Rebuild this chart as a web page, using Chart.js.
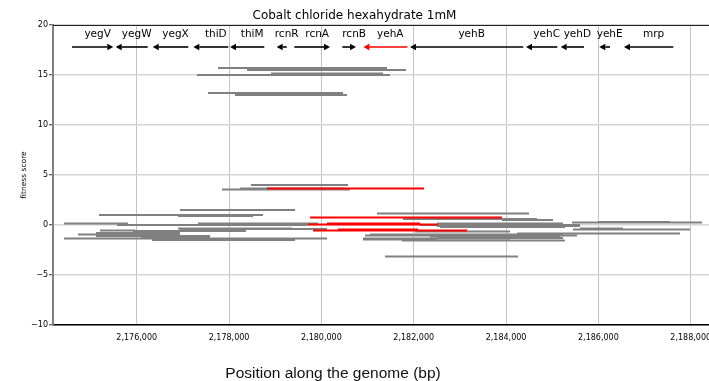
<!DOCTYPE html>
<html>
<head>
<meta charset="utf-8">
<script src="https://cdn.jsdelivr.net/npm/chart.js@4.4.1/dist/chart.umd.min.js"></script>
<style>
  html, body { margin: 0; padding: 0; background: #fff; }
  #wrap { position: relative; width: 709px; height: 381px; overflow: hidden; }
  #c { position: absolute; left: 0; top: 0; }
  #xtitle { position: absolute; left: 333px; top: 373px; transform: translate(-50%, -50%);
    font-family: 'Liberation Sans', Arial, sans-serif; font-size: 15.5px; color: #111; white-space: nowrap; }
</style>
</head>
<body>
<div id="wrap">
  <canvas id="c" width="709" height="381"></canvas>
  <div id="xtitle">Position along the genome (bp)</div>
</div>
<script>
// ---- data ----
const chartTitle = 'Cobalt chloride hexahydrate 1mM';
const yTitle = 'fitness score';
const xTicks = [2176000, 2178000, 2180000, 2182000, 2184000, 2186000, 2188000];
const yTicks = [-10, -5, 0, 5, 10, 15, 20];

const geneNames  = ['yegV','yegW','yegX','thiD','thiM','rcnR','rcnA','rcnB','yehA','yehB','yehC','yehD','yehE','mrp'];
const geneStart  = [2174599,2175545,2176347,2177226,2178021,2179032,2179414,2180453,2180908,2181920,2184432,2185184,2186020,2186554];
const geneEnd    = [2175493,2176238,2177118,2177984,2178764,2179249,2180187,2180750,2181861,2184374,2185110,2185689,2186252,2187623];
const geneStrand = ['+','-','-','-','-','-','+','+','-','-','-','-','-','-'];
const highlightGene = 'yehA';

// fitness segments (other genes / fragments)
const grayStart = [2177761,2178389,2177306,2178909,2177544,2178129,2178476,2177848,2178237,2176938,
  2175183,2176895,2181205,2181768,2183912,2174425,2177328,2175573,2182504,2182136,
  2182504,2185429,2185992,2185602,2185450,2176938,2182028,2175205,2175920,2176895,
  2184237,2181053,2180945,2174729,2175118,2176093,2174425,2176331,2177653,2180902,
  2182504,2181746,2181378,2180902,2182570,2182353,2175118];
const grayEnd = [2181421,2181833,2181486,2181335,2180468,2180555,2180577,2180620,2180512,2179429,
  2178736,2178519,2184497,2184670,2185017,2175812,2179927,2179710,2185234,2185602,
  2185602,2188244,2187551,2186533,2187984,2180122,2184086,2175963,2178367,2179364,
  2187768,2185234,2185537,2176938,2177588,2177588,2180122,2179429,2179385,2182504,
  2185234,2185277,2184259,2184086,2185277,2185170,2176938];
const grayScore = [15.7,15.5,15.0,15.15,13.2,13.0,4.0,3.55,3.65,1.5,
  1.0,0.9,1.15,0.6,0.5,0.15,0.15,0.0,0.15,0.0,
  -0.1,0.25,0.3,-0.35,-0.45,-0.4,-0.65,-0.55,-0.6,-0.35,
  -0.85,-0.95,-1.05,-0.95,-1.1,-1.2,-1.35,-1.5,-1.45,-1.45,
  -1.3,-1.55,-3.15,-1.35,-0.2,-1.15,-0.8];

// fitness segments (highlighted gene)
const redStart = [2178822,2179754,2179710,2180122,2179819,2180360];
const redEnd   = [2182223,2183912,2182526,2182136,2183154,2182093];
const redScore = [3.65,0.75,0.05,0.15,-0.55,-0.45];

// ---- build datasets ----
const datasets = [];
for (let i = 0; i < redStart.length; i++) {
  datasets.push({ data: [{x: redStart[i], y: redScore[i]}, {x: redEnd[i], y: redScore[i]}],
    borderColor: '#ff0000', borderWidth: 2, pointRadius: 0, showLine: true, order: 0, borderCapStyle: 'butt' });
}
for (let i = 0; i < grayStart.length; i++) {
  datasets.push({ data: [{x: grayStart[i], y: grayScore[i]}, {x: grayEnd[i], y: grayScore[i]}],
    borderColor: '#808080', borderWidth: 2, pointRadius: 0, showLine: true, order: 1, borderCapStyle: 'butt' });
}

const geneArrowY = 17.8;
const geneLabelY = 19.05;

const genePlugin = {
  id: 'genes',
  afterDatasetsDraw(chart) {
    const {ctx, chartArea, scales: {x, y}} = chart;
    ctx.save();
    // top frame line
    ctx.strokeStyle = '#222';
    ctx.lineWidth = 1.2;
    ctx.beginPath();
    ctx.moveTo(chartArea.left, chartArea.top + 0.5);
    ctx.lineTo(chartArea.right, chartArea.top + 0.5);
    ctx.stroke();

    const ya = y.getPixelForValue(geneArrowY);
    const yl = y.getPixelForValue(geneLabelY);
    ctx.font = '10.5px "DejaVu Sans"';
    ctx.textAlign = 'center';
    ctx.textBaseline = 'middle';
    for (let i = 0; i < geneNames.length; i++) {
      const col = geneNames[i] === highlightGene ? '#ff0000' : '#000000';
      const x1 = x.getPixelForValue(geneStart[i]);
      const x2 = x.getPixelForValue(geneEnd[i]);
      const head = 6, hw = 3.2;
      ctx.strokeStyle = col; ctx.fillStyle = col; ctx.lineWidth = 1.6;
      ctx.beginPath();
      if (geneStrand[i] === '+') {
        ctx.moveTo(x1, ya); ctx.lineTo(x2 - head, ya); ctx.stroke();
        ctx.beginPath(); ctx.moveTo(x2, ya); ctx.lineTo(x2 - head, ya - hw); ctx.lineTo(x2 - head, ya + hw); ctx.closePath(); ctx.fill();
      } else {
        ctx.moveTo(x1 + head, ya); ctx.lineTo(x2, ya); ctx.stroke();
        ctx.beginPath(); ctx.moveTo(x1, ya); ctx.lineTo(x1 + head, ya - hw); ctx.lineTo(x1 + head, ya + hw); ctx.closePath(); ctx.fill();
      }
      ctx.fillStyle = '#000';
      ctx.fillText(geneNames[i], (x1 + x2) / 2 + 5, yl);
    }
    ctx.restore();
  }
};

new Chart(document.getElementById('c'), {
  type: 'scatter',
  data: { datasets },
  plugins: [genePlugin],
  options: {
    responsive: false,
    animation: false,
    events: [],
    layout: { padding: { left: 0, right: 0, top: 0, bottom: 0 } },
    plugins: {
      legend: { display: false },
      tooltip: { enabled: false },
      title: { display: true, text: chartTitle, color: '#000',
        font: { family: 'DejaVu Sans', size: 12, weight: 'normal' }, padding: { top: 8.6, bottom: 2 } }
    },
    scales: {
      x: {
        type: 'linear', min: 2174187, max: 2188396,
        afterBuildTicks: (s) => { s.ticks = xTicks.map(v => ({ value: v })); },
        afterFit: (s) => { s.height = 56; s.paddingLeft = 0; s.paddingRight = 0; },
        ticks: { color: '#000', font: { family: 'DejaVu Sans', size: 8 }, padding: 8, maxRotation: 0, autoSkip: false,
          callback: (v) => Number(v).toLocaleString('en-US') },
        grid: { color: '#c4c4c4', lineWidth: 1, drawTicks: false },
        border: { color: '#000', width: 1.5 }
      },
      y: {
        min: -10, max: 20,
        afterBuildTicks: (s) => { s.ticks = yTicks.map(v => ({ value: v })); },
        afterFit: (s) => { s.width = 53; s.paddingTop = 0; s.paddingBottom = 0; },
        ticks: { color: '#000', font: { family: 'DejaVu Sans', size: 8 }, padding: 1,
          callback: (v) => (v < 0 ? '\u2212' + Math.abs(v) : String(v)) },
        grid: { color: '#d4d4d4', lineWidth: 1.5, tickLength: 4, tickColor: '#333', tickWidth: 1 },
        border: { color: '#808080', width: 2 },
        title: { display: true, text: yTitle, color: '#000', font: { family: 'DejaVu Sans', size: 7.5 }, padding: { top: 19.5, bottom: 0 } }
      }
    }
  }
});
</script>
</body>
</html>
